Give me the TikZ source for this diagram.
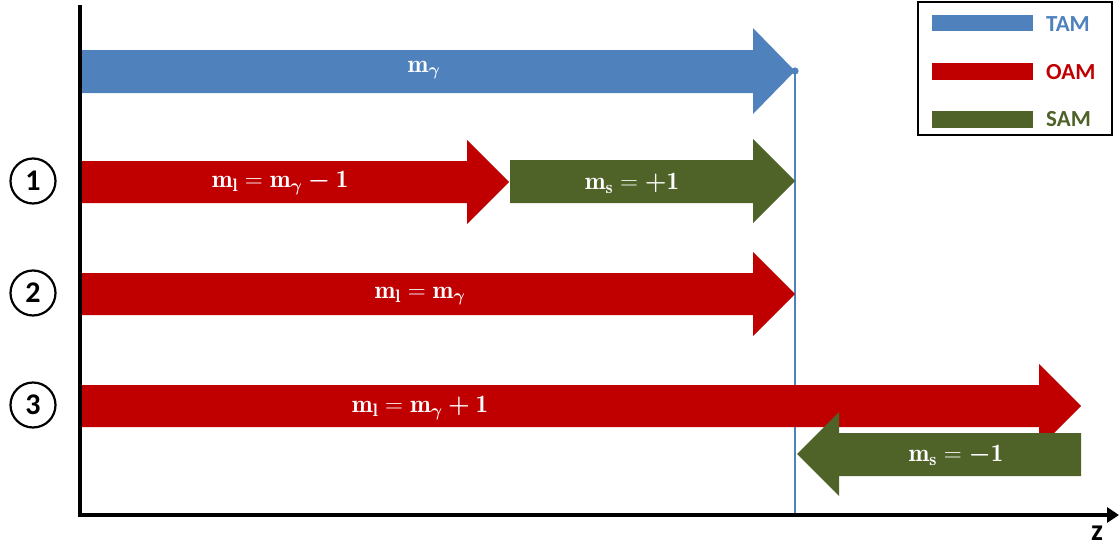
\documentclass[tikz,border=0pt]{standalone}
\usepackage{amsmath,bm}
\usepackage{fontspec}
\newfontfamily\carl{Carlito}[BoldFont={Carlito Bold}]
\usetikzlibrary{arrows.meta}
\definecolor{tamblue}{HTML}{4F81BD}
\definecolor{oamred}{HTML}{C00000}
\definecolor{samgreen}{HTML}{4F6228}
% bold subscript set at a fixed, fairly large size
\newcommand\bsub[1]{_{\mbox{\fontsize{18}{20}\selectfont$\bm{#1}$}}}
\tikzset{
  lbl/.style={text=white, font=\fontsize{25}{28}\selectfont, inner sep=0pt},
  legtxt/.style={font=\carl\bfseries\fontsize{23}{26}\selectfont, inner sep=0pt, anchor=west},
  num/.style={circle, draw=black, line width=2.2pt, minimum size=45pt, inner sep=0pt,
    font=\carl\bfseries\fontsize{30}{32}\selectfont}
}
\begin{document}
\begin{tikzpicture}[x=1pt,y=-1pt]
\useasboundingbox (0,0) rectangle (1120,552);

% total angular momentum marker line
\draw[tamblue, line width=2.8pt] (795,71) -- (795,515);
\fill[tamblue] (795,71) circle (3.6);

% TAM arrow
\fill[tamblue] (80,50) -- (753,50) -- (753,28) -- (795,71) -- (753,114) -- (753,93) -- (80,93) -- cycle;
\node[lbl] (tam) at (424,70) {$\mathbf{m}\bsub{\gamma}$};

% case 1
\fill[oamred] (80,161) -- (467,161) -- (467,140) -- (509,182) -- (467,224) -- (467,203) -- (80,203) -- cycle;
\fill[samgreen] (510,160) -- (753,160) -- (753,139) -- (795,181) -- (753,223) -- (753,203) -- (510,203) -- cycle;
\node[lbl] (l1) at (280,183) {$\mathbf{m}\bsub{\mathrm{l}} = \mathbf{m}\bsub{\gamma} \bm{-} \mathbf{1}$};
\node[lbl] (s1) at (632,183) {$\mathbf{m}\bsub{\mathrm{s}} = \bm{+}\mathbf{1}$};

% case 2
\fill[oamred] (80,273) -- (753,273) -- (753,252) -- (795,294) -- (753,336) -- (753,315) -- (80,315) -- cycle;
\node[lbl] (l2) at (420,296) {$\mathbf{m}\bsub{\mathrm{l}} = \mathbf{m}\bsub{\gamma}$};

% case 3
\fill[oamred] (80,385) -- (1039,385) -- (1039,364) -- (1081,406) -- (1039,448) -- (1039,427) -- (80,427) -- cycle;
\node[lbl] (l3) at (420,408) {$\mathbf{m}\bsub{\mathrm{l}} = \mathbf{m}\bsub{\gamma} \bm{+} \mathbf{1}$};
\fill[samgreen] (1081,433) -- (839,433) -- (839,412) -- (797,454) -- (839,496) -- (839,476) -- (1081,476) -- cycle;
\node[lbl] (s3) at (956,455) {$\mathbf{m}\bsub{\mathrm{s}} = \bm{-}\mathbf{1}$};

% axes
\coordinate (top) at (80,5);
\coordinate (orig) at (80,517);
\coordinate (zend) at (1119,515);
\draw[line width=4pt] (top) -- (orig);
\draw[line width=4pt, -{Triangle[length=12pt,width=15pt]}] (78,515) -- (zend);
\node[font=\carl\bfseries\fontsize{30}{32}\selectfont, inner sep=0pt] (z) at (1097,533) {z};

% case labels
\node[num] (n1) at (33,181) {1};
\node[num] (n2) at (33,293) {2};
\node[num] (n3) at (33,405) {3};

% legend
\draw[line width=2.5pt] (918,2) rectangle (1112,135);
\fill[tamblue] (932,15) rectangle (1033,31);
\fill[oamred] (932,63) rectangle (1033,80);
\fill[samgreen] (932,111) rectangle (1033,128);
\node[legtxt, text=tamblue] (ltam) at (1046,24) {TAM};
\node[legtxt, text=oamred] (loam) at (1046,72) {OAM};
\node[legtxt, text=samgreen] (lsam) at (1046,119) {SAM};
\end{tikzpicture}
\end{document}
